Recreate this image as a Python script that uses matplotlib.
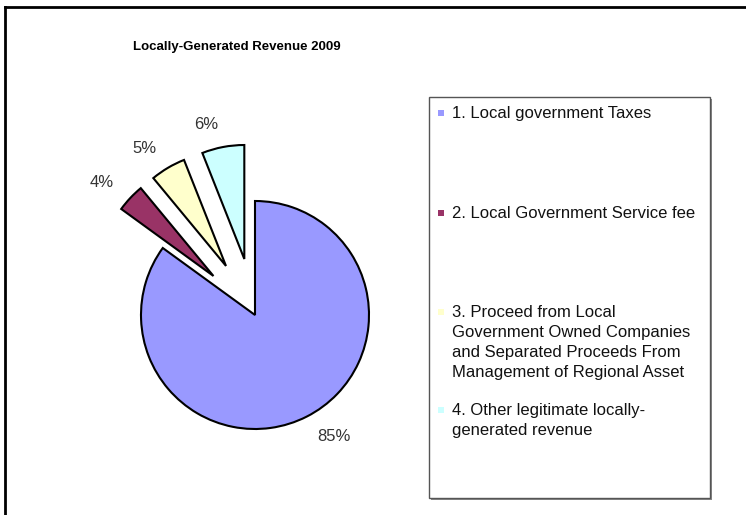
import matplotlib
matplotlib.use("Agg")
import matplotlib.pyplot as plt
from matplotlib.patches import Rectangle
from matplotlib.lines import Line2D

plt.rcParams['font.family'] = ['Liberation Sans', 'DejaVu Sans']

# revenue shares, percent
shares = [85, 4, 5, 6]
labels = ["1. Local government Taxes",
          "2. Local Government Service fee",
          "3. Proceed from Local\nGovernment Owned Companies\nand Separated Proceeds From\nManagement of Regional Asset",
          "4. Other legitimate locally-\ngenerated revenue"]
colors = ["#9999FF", "#993366", "#FFFFCC", "#CCFFFF"]
explode = [0, 0.5, 0.5, 0.5]
title = "Locally-Generated Revenue 2009"

W, H = 746, 515
fig = plt.figure(figsize=(W / 100, H / 100), dpi=100)

# outer frame (left and top edges only)
fig.add_artist(Line2D([5 / W, 5 / W], [0, 1 - 7 / H], transform=fig.transFigure,
                      color="black", lw=2))
fig.add_artist(Line2D([5 / W, 1], [1 - 7 / H, 1 - 7 / H], transform=fig.transFigure,
                      color="black", lw=2))

fig.text(237 / W, 1 - 47 / H, title, ha="center", va="center",
         fontsize=9.5, fontweight="bold")

# pie axes: 500px square centred on the pie, radius 114px
cx, cy, r, half = 255, 515 - 315, 114, 250
ax = fig.add_axes([(cx - half) / W, (cy - half) / H, 2 * half / W, 2 * half / H])
lim = half / r

wedges, texts = ax.pie(shares, labels=[f"{v}%" for v in shares], colors=colors,
                       explode=explode, startangle=90, counterclock=False,
                       labeldistance=1.2, radius=1,
                       wedgeprops=dict(edgecolor="black", linewidth=1.5),
                       textprops=dict(fontsize=12, color="#333333"))
ax.axis("off")
ax.set_xlim(-lim, lim)
ax.set_ylim(-lim, lim)

# legend box with a grey shadow
lx0, lx1, ly0, ly1 = 429, 710, 97, 498
fig.add_artist(Rectangle(((lx0 + 2) / W, 1 - (ly1 + 2) / H), (lx1 - lx0) / W,
                         (ly1 - ly0) / H, transform=fig.transFigure,
                         facecolor="#888888", edgecolor="none"))
fig.add_artist(Rectangle((lx0 / W, 1 - ly1 / H), (lx1 - lx0) / W, (ly1 - ly0) / H,
                         transform=fig.transFigure, facecolor="white",
                         edgecolor="#555555", linewidth=1))

entry_y = [113, 213, 312, 410]
for lab, col, y in zip(labels, colors, entry_y):
    fig.add_artist(Rectangle((438 / W, 1 - (y + 3) / H), 6 / W, 6 / H,
                             transform=fig.transFigure, facecolor=col,
                             edgecolor="none"))
    fig.text(452 / W, 1 - (y - 7) / H, lab, ha="left", va="top",
             fontsize=12, color="#111111", linespacing=1.42)

fig.savefig("out.png", dpi=100)
